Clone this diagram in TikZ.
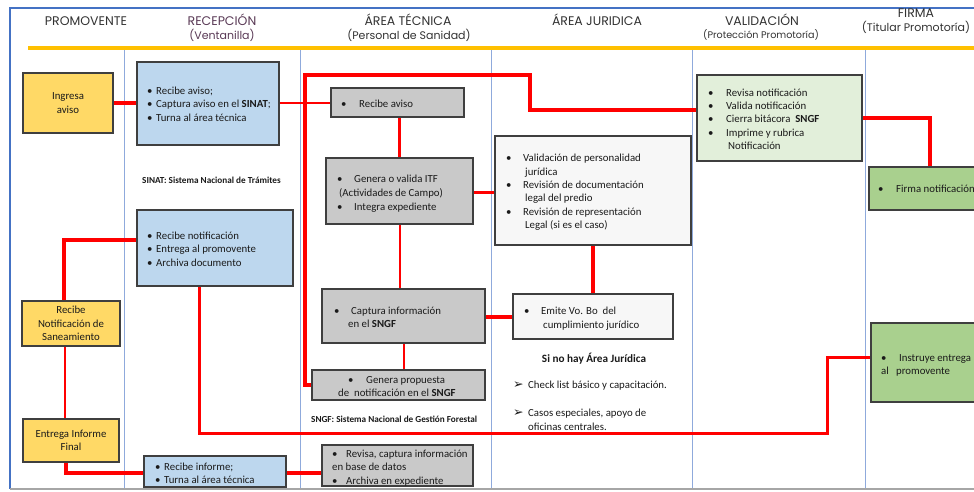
\documentclass[tikz,border=0pt]{standalone}
\usepackage{fontspec}
\setmainfont{Carlito}
\newfontfamily\hdrfont{Poppins}
\newfontfamily\djfont{DejaVu Sans}
\usetikzlibrary{calc}
\pgfdeclarelayer{back}
\pgfdeclarelayer{mid}
\pgfsetlayers{back,mid,main}
\definecolor{frameblue}{HTML}{4472C4}
\definecolor{divblue}{HTML}{8FAADC}
\definecolor{goldline}{HTML}{FFC000}
\definecolor{redline}{HTML}{FF0000}
\definecolor{yellowbox}{HTML}{FFD966}
\definecolor{bluebox}{HTML}{BDD7EE}
\definecolor{graybox}{HTML}{C9C9C9}
\definecolor{lightbox}{HTML}{F7F7F7}
\definecolor{valgreen}{HTML}{E2EFDA}
\definecolor{firmgreen}{HTML}{A9D08E}
\definecolor{boxborder}{HTML}{3F3F3F}
\definecolor{hdrgray}{HTML}{333333}
\definecolor{recmauve}{HTML}{5A3A56}
\definecolor{txtdark}{HTML}{1A1A1A}
% box: #1 optional text, #2 name, #3 style, #4 x1, #5 y1, #6 x2, #7 y2
\newcommand\mkbox[7][]{\node[#3, minimum width={#6-#4}, minimum height={#7-#5}] (#2) at ({(#4+#6)/2},{(#5+#7)/2}) {#1};}
\newcommand\txl[4]{\node[tline] (#1) at (#2,#3) {#4};}
\newcommand\bul[1]{\makebox[#1][l]{\textbullet}}
\begin{document}
\begin{tikzpicture}[x=1pt,y=-1pt,
  boxbase/.style={draw=boxborder, line width=1.1pt, inner sep=0pt, outer sep=0pt, rectangle},
  ybox/.style={boxbase, fill=yellowbox, align=center, text=txtdark, font=\fontsize{10.8}{13.5}\selectfont},
  bbox/.style={boxbase, fill=bluebox},
  gbox/.style={boxbase, fill=graybox},
  lbox/.style={boxbase, fill=lightbox},
  vbox/.style={boxbase, fill=valgreen},
  fbox/.style={boxbase, fill=firmgreen},
  tline/.style={anchor=base west, inner sep=0pt, text=txtdark, font=\fontsize{10.8}{13.5}\selectfont},
  note/.style={anchor=base west, inner sep=0pt, text=txtdark, font=\fontsize{9.2}{11}\selectfont\bfseries},
  hd/.style={anchor=base, inner sep=0pt, text=hdrgray, font=\hdrfont\fontsize{12.5}{14}\selectfont},
  hdsub/.style={anchor=base, inner sep=0pt, text=hdrgray, font=\hdrfont\fontsize{11}{13}\selectfont},
  conn/.style={draw=redline, line width=3.5pt, line join=miter},
  thinconn/.style={draw=redline, line width=2pt},
  lane/.style={draw=divblue, line width=1pt},
  arrowmark/.style={anchor=base west, inner sep=0pt, text=txtdark, font=\djfont\fontsize{12.5}{14}\selectfont}
]
\useasboundingbox (0,0) rectangle (974,491);
\clip (0,0) rectangle (974,491);

% ---------- frame and lanes ----------
\begin{pgfonlayer}{back}
\fill[white] (0,0) rectangle (974,491);
\draw[frameblue, line width=2pt] (974,8) -- (10,8) -- (10,489);
\draw[gray!70, line width=1.5pt] (10,489) -- (974,489);
\draw[goldline, line width=3.5pt] (28,48) -- (974,48);
\foreach \xx in {124,300,491,692,865} {\draw[lane] (\xx,50) -- (\xx,488);}
\end{pgfonlayer}

% ---------- headers ----------
\node[hd] (h1) at (86,25) {PROMOVENTE};
\node[hd, text=recmauve] (h2) at (222,25) {RECEPCIÓN};
\node[hdsub, text=recmauve] (h2b) at (222,39) {(Ventanilla)};
\node[hd] (h3) at (408,25) {ÁREA TÉCNICA};
\node[hdsub] (h3b) at (409,39) {(Personal de Sanidad)};
\node[hd] (h4) at (597,25) {ÁREA JURIDICA};
\node[hd] (h5) at (762,25) {VALIDACIÓN};
\node[hdsub, font=\hdrfont\fontsize{9.6}{12}\selectfont] (h5b) at (761,38) {(Protección Promotoría)};
\node[hd] (h6) at (916,17.5) {FIRMA};
\node[hdsub] (h6b) at (916,31) {(Titular Promotoría)};

% ---------- promovente ----------
\mkbox[Ingresa\\aviso]{ing}{ybox}{23}{73}{113}{133}
\mkbox[Recibe\\Notificación de\\Saneamiento]{rn}{ybox}{22}{301}{120}{346}
\mkbox[Entrega Informe\\Final]{ei}{ybox}{23}{419}{119}{462}

% ---------- recepcion ----------
\mkbox{rec1}{bbox}{137}{62}{279}{145}
\txl{r1a}{147}{94}{\bul{9pt}Recibe aviso;}
\txl{r1b}{147}{107.5}{\bul{9pt}Captura aviso en el \textbf{SINAT};}
\txl{r1c}{147}{121}{\bul{9pt}Turna al área técnica}
\node[note] (sinat) at (142,183) {SINAT: Sistema Nacional de Trámites};

\mkbox{rec2}{bbox}{137}{210}{293}{286}
\txl{r2a}{147}{239}{\bul{9pt}Recibe notificación}
\txl{r2b}{147}{252.5}{\bul{9pt}Entrega al promovente}
\txl{r2c}{147}{266}{\bul{9pt}Archiva documento}

\mkbox{rec3}{bbox}{144}{456}{286}{487}
\txl{r3a}{155}{470}{\bul{9pt}Recibe informe;}
\txl{r3b}{155}{483}{\bul{9pt}Turna al área técnica}

% ---------- area tecnica ----------
\mkbox{ta1}{gbox}{331}{88}{464}{117}
\txl{t1a}{341}{107}{\bul{18pt}Recibe aviso}

\mkbox{ta2}{gbox}{326}{158}{473}{224}
\txl{t2a}{337}{182}{\bul{17pt}Genera o valida ITF}
\txl{t2b}{339}{196}{(Actividades de Campo)}
\txl{t2c}{337}{210}{\bul{17pt}Integra expediente}

\mkbox{ta3}{gbox}{322}{289}{485}{343}
\txl{t3a}{334}{314}{\bul{17pt}Captura información}
\txl{t3b}{348}{327}{en el \textbf{SNGF}}

\mkbox{ta4}{gbox}{312}{370}{485}{400}
\txl{t4a}{348}{383}{\bul{18pt}Genera propuesta}
\txl{t4b}{338}{396}{de\ \ notificación en el \textbf{SNGF}}
\node[note] (sngf) at (311,422) {SNGF: Sistema Nacional de Gestión Forestal};

\mkbox{ta5}{gbox}{322}{445}{473}{486}
\txl{t5a}{332}{457}{\bul{14pt}Revisa, captura información}
\txl{t5b}{332}{470}{en base de datos}
\txl{t5c}{332}{484}{\bul{14pt}Archiva en expediente}

% ---------- area juridica ----------
\mkbox{aj1}{lbox}{495}{136}{691}{245}
\txl{j1a}{506}{161}{\bul{17pt}Validación de personalidad}
\txl{j1b}{525}{175}{jurídica}
\txl{j1c}{506}{188}{\bul{17pt}Revisión de documentación}
\txl{j1d}{525}{201.5}{legal del predio}
\txl{j1e}{506}{215}{\bul{17pt}Revisión de representación}
\txl{j1f}{525}{228.5}{Legal (si es el caso)}

\mkbox{aj2}{lbox}{513}{294}{673}{339}
\txl{j2a}{524}{314}{\bul{17pt}Emite Vo. Bo\ \ del}
\txl{j2b}{543}{328}{cumplimiento jurídico}

\node[anchor=base, inner sep=0pt, text=txtdark, font=\fontsize{11.2}{13}\selectfont\bfseries] (sinaj) at (594,362) {Si no hay Área Jurídica};
\node[arrowmark] (ar1) at (513,388.5) {➢};
\txl{j3a}{528}{388}{Check list básico y capacitación.}
\node[arrowmark] (ar2) at (513,416.5) {➢};
\txl{j3b}{528}{416}{Casos especiales, apoyo de}
\txl{j3c}{528}{430}{oficinas centrales.}

% ---------- validacion ----------
\mkbox{val}{vbox}{697}{75}{862}{161}
\txl{v1}{708}{96}{\bul{18pt}Revisa notificación}
\txl{v2}{708}{109}{\bul{18pt}Valida notificación}
\txl{v3}{708}{122}{\bul{18pt}Cierra bitácora\ \ \textbf{SNGF}}
\txl{v4}{708}{136}{\bul{18pt}Imprime y rubrica}
\txl{v5}{728}{149}{Notificación}

% ---------- firma ----------
\mkbox{firma}{fbox}{869}{167}{990}{210}
\txl{f1}{878}{192}{\bul{18pt}Firma notificación}
\mkbox{instr}{fbox}{871}{323}{990}{402}
\txl{i1}{881}{361}{\bul{18pt}Instruye entrega}
\txl{i2}{881}{374}{al\ \ \ promovente}

% ---------- connectors ----------
\begin{pgfonlayer}{mid}
\draw[conn] (ing.east) -- (rec1.west |- ing.east);
\draw[thinconn] (rec1.east |- ta1.west) -- (ta1.west);
\draw[thinconn, line width=2.5pt] (ta2.north |- ta1.south) -- (ta2.north);
\draw[conn, line width=3pt] (ta2.east |- 0,192) -- (aj1.west |- 0,192);
\draw[thinconn] (ta2.south) -- (ta2.south |- ta3.north);
\draw[conn] (ta3.east |- 0,317) -- (aj2.west |- 0,317);
\draw[conn] (aj1.south) -- (aj2.north);
\draw[thinconn] (ta3.south) -- (ta3.south |- ta4.north);
\draw[conn, line width=4pt] (ta4.west) -| (305,75) -| (530,110) -- (val.west |- 0,110);
\draw[conn, line width=4pt] (val.east) -| (firma.north);
\draw[conn] (rec2.west |- 0,240) -| (rn.north -| 64,0);
\draw[thinconn] (rn.south -| 65,0) -- (ei.north -| 65,0);
\draw[conn] (ei.south -| 66,0) |- (rec3.west |- 0,473);
\draw[conn] (rec3.east |- 0,473) -- (ta5.west |- 0,473);
\draw[conn, line width=3pt] (rec2.south -| 199,0) |- (827,433) |- (instr.west |- 0,357);
\end{pgfonlayer}
\end{tikzpicture}
\end{document}
